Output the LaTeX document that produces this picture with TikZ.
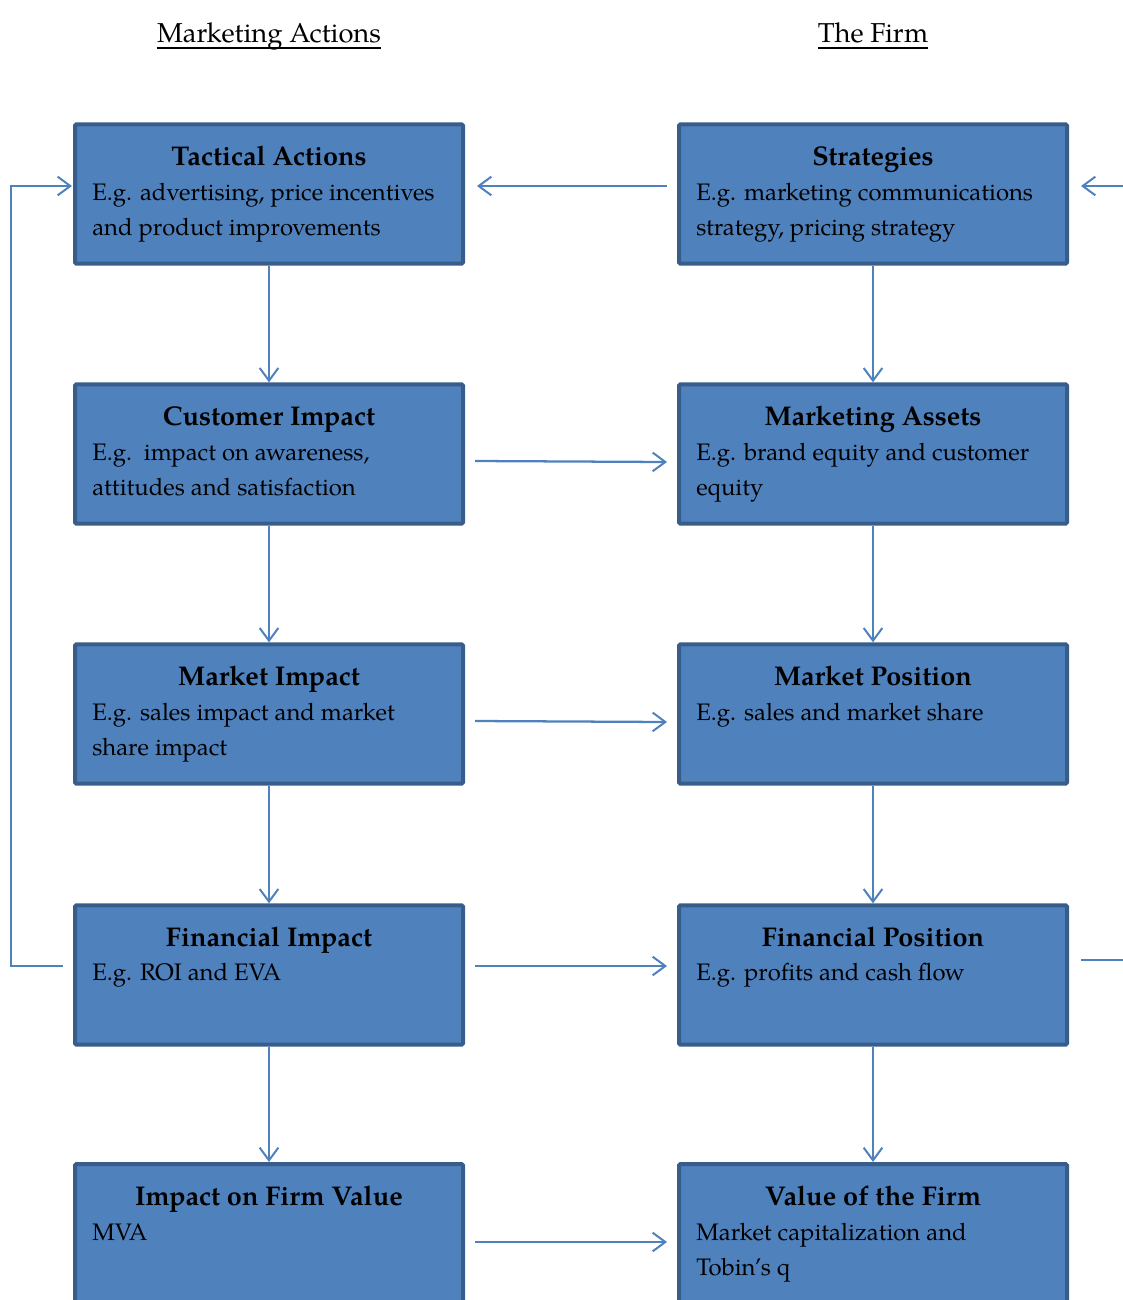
\documentclass[tikz,border=0pt]{standalone}
\usepackage{fontspec}
\setmainfont{texgyrepagella}[Extension=.otf,UprightFont=*-regular,BoldFont=*-bold,ItalicFont=*-italic,BoldItalicFont=*-bolditalic]
\usetikzlibrary{arrows.meta,calc}
\definecolor{boxfill}{HTML}{4F81BD}
\definecolor{boxline}{HTML}{385D8A}
\definecolor{conncol}{HTML}{4F81BD}
\tikzset{
  mbox/.style={draw=boxline,fill=boxfill,line width=3pt,rounded corners=1pt,
    minimum width=291pt,minimum height=104.5pt,inner sep=0pt},
  lastbox/.style={mbox,minimum height=150pt},
  btitle/.style={font=\fontsize{20.3}{24}\selectfont\bfseries,inner sep=0pt,anchor=base},
  bbody/.style={font=\fontsize{17.9}{26.25}\selectfont,inner sep=0pt,anchor=base west,align=left},
  head/.style={font=\fontsize{20.5}{24}\selectfont,inner sep=0pt,anchor=base},
  uline/.style={draw=black,line width=1.8pt},
  conn/.style={draw=conncol,line width=1.7pt,-{Straight Barb[length=9.5pt,width=14pt,line width=1.5pt]}},
  plain/.style={draw=conncol,line width=1.7pt}
}
\begin{document}
\begin{tikzpicture}[x=0.75pt,y=-0.75pt]
\useasboundingbox (0,0) rectangle (1123,1300);
\clip (0,0) rectangle (1123,1300);
% headings
\node[head] (h1) at (269,42) {Marketing Actions};
\node[head] (h2) at (873,42) {The Firm};
\draw[uline] ([yshift=-4.3pt]h1.base west) -- ([yshift=-4.3pt]h1.base east);
\draw[uline] ([yshift=-4.3pt]h2.base west) -- ([yshift=-4.3pt]h2.base east);
% boxes
\node[mbox] (ta) at (269,194) {};
\node[mbox] (st) at (873,194) {};
\node[mbox] (ci) at (269,454) {};
\node[mbox] (ma) at (873,454) {};
\node[mbox] (mi) at (269,714) {};
\node[mbox] (mp) at (873,714) {};
\node[mbox] (fi) at (269,975) {};
\node[mbox] (fp) at (873,975) {};
\node[lastbox] (iv) at (269,1264) {};
\node[lastbox] (vf) at (873,1264) {};
% texts (base = baseline of last line)
\node[btitle] (ta-t) at (269,165) {Tactical Actions};
\node[bbody] (ta-b) at (92,235) {E.g. advertising, price incentives\\and product improvements};
\node[btitle] (st-t) at (873,165) {Strategies};
\node[bbody] (st-b) at (696,235) {E.g. marketing communications\\strategy, pricing strategy};
\node[btitle] (ci-t) at (269,425) {Customer Impact};
\node[bbody] (ci-b) at (92,495) {E.g.\ \ impact on awareness,\\attitudes and satisfaction};
\node[btitle] (ma-t) at (873,425) {Marketing Assets};
\node[bbody] (ma-b) at (696,495) {E.g. brand equity and customer\\equity};
\node[btitle] (mi-t) at (269,685) {Market Impact};
\node[bbody] (mi-b) at (92,755) {E.g. sales impact and market\\share impact};
\node[btitle] (mp-t) at (873,685) {Market Position};
\node[bbody] (mp-b) at (696,720) {E.g. sales and market share};
\node[btitle] (fi-t) at (269,946) {Financial Impact};
\node[bbody] (fi-b) at (92,980) {E.g. ROI and EVA};
\node[btitle] (fp-t) at (873,946) {Financial Position};
\node[bbody] (fp-b) at (696,980) {E.g. profits and cash flow};
\node[btitle] (iv-t) at (269,1205) {Impact on Firm Value};
\node[bbody] (iv-b) at (92,1240) {MVA};
\node[btitle] (vf-t) at (873,1205) {Value of the Firm};
\node[bbody] (vf-b) at (696,1275) {Market capitalization and\\Tobin's q};
% vertical arrows
\draw[conn] (ta) -- (ci);
\draw[conn] (ci) -- (mi);
\draw[conn] (mi) -- (fi);
\draw[conn] (fi) -- (iv.north);
\draw[conn] (st) -- (ma);
\draw[conn] (ma) -- (mp);
\draw[conn] (mp) -- (fp);
\draw[conn] (fp) -- (vf.north);
% horizontal arrows
\draw[conn] ($(st.west)+(-10,-8)$) -- ($(ta.east)+(12,-8)$);
\draw[conn] ($(ci.east)+(10,7)$) -- ($(ma.west)+(-10,8)$);
\draw[conn] ($(mi.east)+(10,7)$) -- ($(mp.west)+(-10,8)$);
\draw[conn] ($(fi.east)+(10,-9)$) -- ($(fp.west)+(-10,-9)$);
\draw[conn] ($(iv.east)+(10,-22)$) -- ($(vf.west)+(-10,-22)$);
% feedback loops
\coordinate (lx) at (11,966);
\draw[conn] ($(fi.west)+(-10,-9)$) -- (lx) |- ($(ta.west)+(-1,-8)$);
\coordinate (rx1) at (1130,960);
\coordinate (rx2) at (1130,186);
\draw[plain] ($(fp.east)+(12,-15)$) -- (rx1);
\draw[conn] (rx2) -- ($(st.east)+(12,-8)$);
\end{tikzpicture}
\end{document}
